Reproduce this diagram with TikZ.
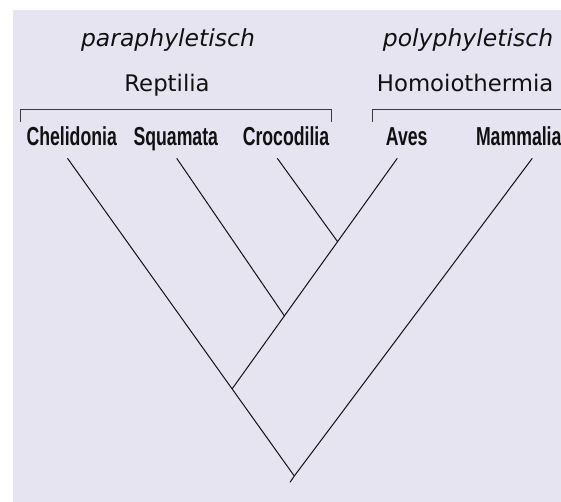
\documentclass[tikz,border=0pt]{standalone}
\usepackage{fontspec}
\usepackage{tikz}
\usetikzlibrary{positioning,calc}
\setmainfont{DejaVu Sans}
\newfontfamily\taxfont[FakeStretch=0.68]{Liberation Sans}
\definecolor{treebg}{HTML}{E6E4F1}
\definecolor{treeink}{HTML}{111111}
\definecolor{brkgray}{HTML}{3A3A3A}

\begin{document}
\begin{tikzpicture}[
    x=1pt, y=-1pt,
    grouplbl/.style={anchor=base, inner sep=0pt, text=treeink,
                     font=\fontsize{22.8}{26}\selectfont},
    kindlbl/.style={grouplbl, font=\fontsize{23.5}{26}\selectfont\itshape},
    taxon/.style={anchor=base, inner sep=0pt, text=treeink,
                  font=\taxfont\bfseries\fontsize{26}{28}\selectfont},
    branch/.style={draw=treeink, line width=1pt},
    brk/.style={draw=brkgray, line width=1pt}
]
\useasboundingbox (0,0) rectangle (561,502);
\fill[treebg] (12.5,10) rectangle (561,502);

% group labels
\node[kindlbl] (para) at (168,47) {paraphyletisch};
\node[kindlbl] (poly) at (468,47) {polyphyletisch};
\node[grouplbl] (rept) at (167,91.7) {Reptilia};
\node[grouplbl, anchor=base west] (homo) at (376.7,91.7) {Homoiothermia};

% brackets
\draw[brk] (20,121.7) |- (331.7,110) -- (331.7,121.7);
\draw[brk] (372.3,121.7) |- (575,110);

% taxa
\node[taxon] (chel) at (71.7,146) {Chelidonia};
\node[taxon] (squa) at (175.8,146) {Squamata};
\node[taxon] (croc) at (286,146) {Crocodilia};
\node[taxon] (aves) at (406.7,146) {Aves};
\node[taxon, anchor=base west] (mamm) at (475.8,146) {Mammalia};

% branch tips and junctions
\coordinate (tChel) at (67.5,158.3);
\coordinate (tSqua) at (176.7,158.3);
\coordinate (tCroc) at (277.3,158.3);
\coordinate (tAves) at (397.3,158.3);
\coordinate (tMamm) at (532.3,158.3);
\coordinate (jCroc) at (337.6,241.7);
\coordinate (jSqua) at (284.5,316);
\coordinate (jAves) at (232.3,388.6);
\coordinate (root) at (294.3,476);
\coordinate (stem) at (290,482.3);

\draw[branch] (tChel) -- (root);
\draw[branch] (tMamm) -- (root) -- (stem);
\draw[branch] (tAves) -- (jAves);
\draw[branch] (tSqua) -- (jSqua);
\draw[branch] (tCroc) -- (jCroc);
\end{tikzpicture}
\end{document}
